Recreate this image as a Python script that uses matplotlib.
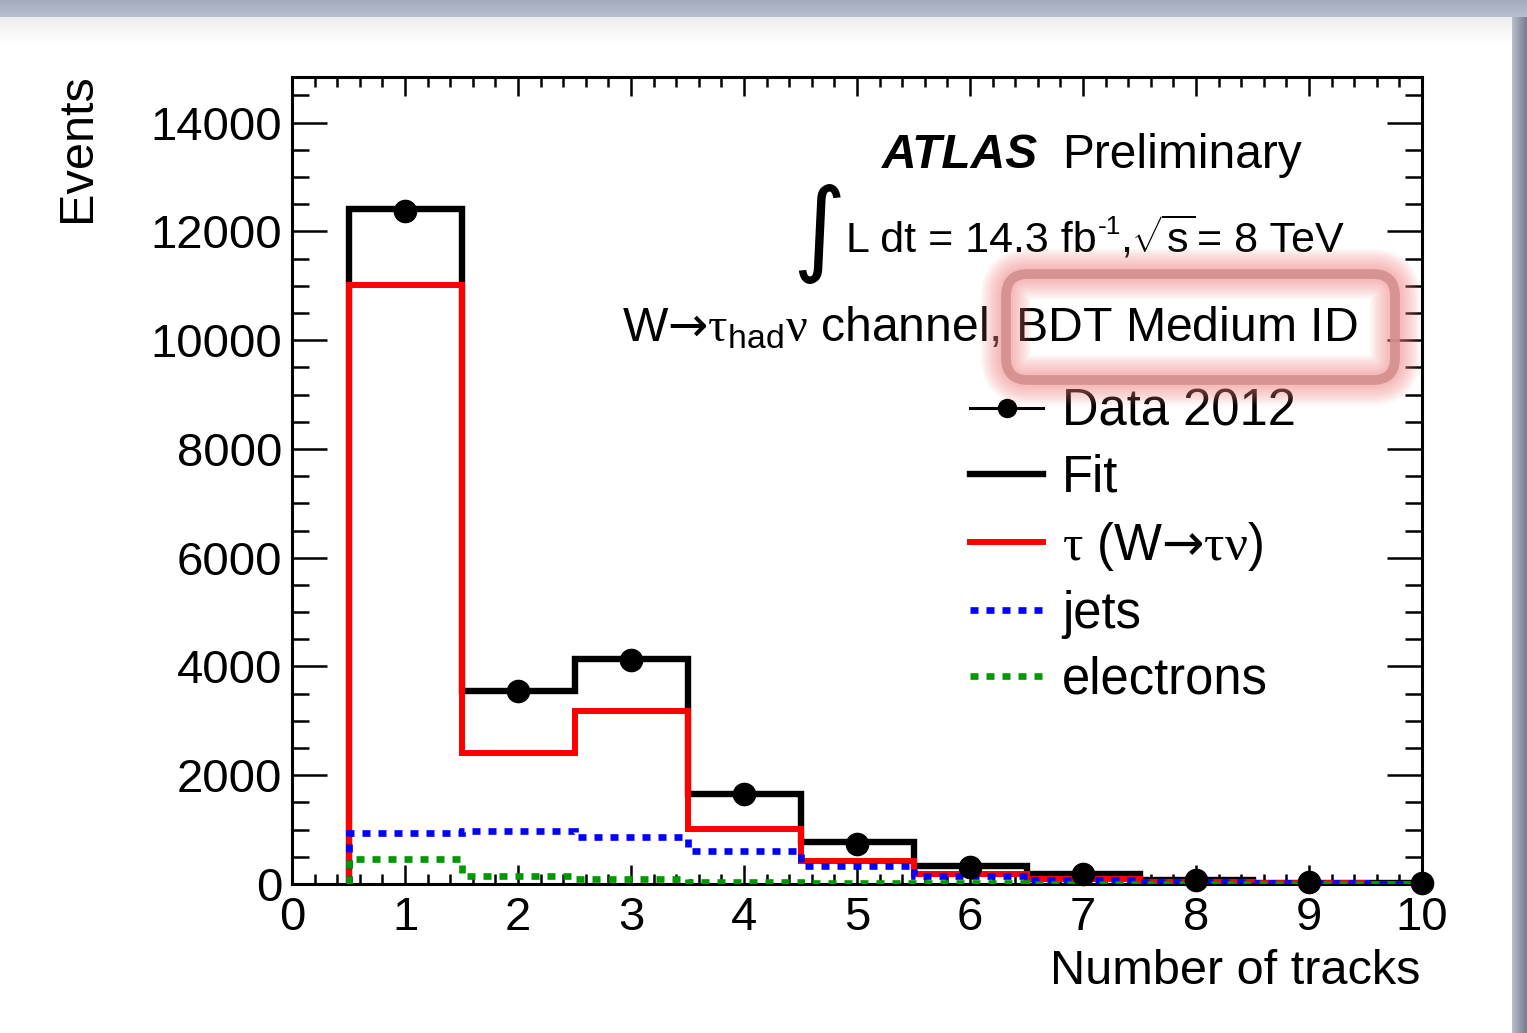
import numpy as np
import matplotlib.pyplot as plt
from matplotlib.lines import Line2D
from matplotlib.patches import FancyBboxPatch
from matplotlib.ticker import MultipleLocator

plt.rcParams['font.family'] = ['Liberation Sans', 'DejaVu Sans']
plt.rcParams['mathtext.fontset'] = 'custom'
plt.rcParams['mathtext.rm'] = 'Liberation Sans'
plt.rcParams['mathtext.it'] = 'Liberation Sans:italic'
plt.rcParams['mathtext.bf'] = 'Liberation Sans:bold'
plt.rcParams['mathtext.sf'] = 'DejaVu Sans'
plt.rcParams['mathtext.tt'] = 'Liberation Serif'

# number of tracks (bin centres) and bin edges
n_tracks = [1, 2, 3, 4, 5, 6, 7, 8, 9, 10]
edges = [0.5, 1.5, 2.5, 3.5, 4.5, 5.5, 6.5, 7.5, 8.5, 9.5, 10.5]

# events per bin
data_2012 = [12370, 3545, 4120, 1655, 735, 320, 180, 80, 40, 20]
fit = [12410, 3540, 4140, 1660, 770, 340, 180, 80, 25, 10]
tau = [11020, 2410, 3190, 1010, 430, 180, 95, 40, 12, 5]
jets = [930, 980, 870, 615, 325, 150, 80, 35, 10, 4]
electrons = [460, 150, 85, 40, 18, 10, 5, 3, 2, 1]

x_ticks = [0, 1, 2, 3, 4, 5, 6, 7, 8, 9, 10]
y_ticks = [0, 2000, 4000, 6000, 8000, 10000, 12000, 14000]

W, H = 1527, 1033


def fx(px):
    return px / W


def fy(py):
    return 1 - py / H


fig = plt.figure(figsize=(W / 100, H / 100), dpi=100)
fig.patch.set_facecolor('white')

# slide background: grey band on top, shadow on the right
bg = fig.add_axes([0, 0, 1, 1], zorder=-10)
bg.set_xlim(0, W)
bg.set_ylim(H, 0)
bg.axis('off')
top_band = np.linspace(0, 1, 20)[:, None, None] * np.array([0.08, 0.08, 0.07]) + np.array([0.64, 0.67, 0.74])
bg.imshow(np.repeat(top_band, 2, axis=1), extent=[0, W, 17, 0], aspect='auto')
page_shade = np.ones((30, 2, 3)) * (0.93 + 0.07 * np.linspace(0, 1, 30))[:, None, None]
bg.imshow(page_shade, extent=[0, 1512, 45, 17], aspect='auto')
side = np.linspace(0, 1, 20)[None, :, None] * np.array([-0.25, -0.25, -0.23]) + np.array([0.72, 0.74, 0.79])
bg.imshow(np.repeat(side, 2, axis=0), extent=[1512, W, H, 17], aspect='auto')

ax = fig.add_axes([fx(292), fy(884), (1422 - 292) / W, (884 - 77) / H])

ax.stairs(fit, edges, baseline=0, color='black', lw=4.6, joinstyle='miter', zorder=2)
ax.stairs(tau, edges, baseline=0, color='#ff0000', lw=4.3, joinstyle='miter', zorder=3)
ax.stairs(jets, edges, baseline=0, color='#0000ff', lw=4.8, linestyle=(0, (1.2, 1.2)), zorder=4)
ax.stairs(electrons, edges, baseline=0, color='#009900', lw=4.8, linestyle=(0, (1.2, 1.2)), zorder=5)
ax.plot(n_tracks, data_2012, 'o', color='black', ms=16, zorder=6, clip_on=False)

ax.set_xlim(0, 10)
ax.set_ylim(0, 14840)
ax.set_xticks(x_ticks)
ax.set_xticklabels([str(t) for t in x_ticks])
ax.set_yticks(y_ticks)
ax.set_yticklabels([str(t) for t in y_ticks])
ax.xaxis.set_minor_locator(MultipleLocator(0.2))
ax.yaxis.set_minor_locator(MultipleLocator(500))
ax.tick_params(axis='both', which='both', direction='in', top=True, right=True, width=1.8, labelsize=34)
ax.tick_params(axis='x', which='major', length=14, pad=9)
ax.tick_params(axis='x', which='minor', length=7)
ax.tick_params(axis='y', which='major', length=25, pad=7)
ax.tick_params(axis='y', which='minor', length=12)
for s in ax.spines.values():
    s.set_linewidth(2.2)

fig.text(fx(78), fy(73), 'Events', rotation=90, ha='center', va='top', fontsize=35)
fig.text(fx(1420), fy(984), 'Number of tracks', ha='right', va='baseline', fontsize=35)

fig.text(fx(882), fy(168), 'ATLAS', fontsize=34.5, weight='bold', style='italic', va='baseline')
fig.text(fx(1062), fy(168), 'Preliminary', fontsize=34.5, va='baseline')

# luminosity line, built piece by piece
fig.text(fx(819), fy(234), '∫', fontsize=74, ha='center', va='center', family='DejaVu Sans')
t1 = fig.text(fx(846), fy(252), 'L dt = 14.3 fb', fontsize=31, va='baseline')
t2 = ax.annotate('-1', xy=(1.0, 1.0), xycoords=t1, xytext=(1, 4), textcoords='offset points',
                 fontsize=19, ha='left', va='top')
t3 = ax.annotate(r'$\mathregular{,}\sqrt{\mathregular{s}}$', xy=(1.0, 0), xycoords=(t2, t1),
                 xytext=(-1, 0), textcoords='offset points', fontsize=31, ha='left', va='bottom')
ax.annotate('= 8 TeV', xy=(1.0, 0), xycoords=(t3, t1), xytext=(1, 0), textcoords='offset points',
            fontsize=31, ha='left', va='bottom')

fig.text(fx(622), fy(341), r'W$\mathsf{→}\mathtt{τ}_{\mathregular{had}}\mathtt{ν}$ channel, BDT Medium ID',
         fontsize=34.7, va='baseline')

handles = [
    Line2D([], [], color='black', lw=2.2, marker='o', ms=13),
    Line2D([], [], color='black', lw=4.6),
    Line2D([], [], color='#ff0000', lw=4.3),
    Line2D([], [], color='#0000ff', lw=4.8, linestyle=(0, (1.2, 1.2))),
    Line2D([], [], color='#009900', lw=4.8, linestyle=(0, (1.2, 1.2))),
]
labels = ['Data 2012', 'Fit', r'$\mathtt{τ}$ (W$\mathsf{→}\mathtt{τν}$)', 'jets', 'electrons']
ax.legend(handles, labels, loc='upper left', bbox_to_anchor=(fx(970), fy(388)),
          bbox_transform=fig.transFigure, frameon=False, fontsize=36.5,
          handlelength=1.44, handletextpad=0.37, labelspacing=0.335,
          borderpad=0, borderaxespad=0)

# red highlight around "BDT Medium ID"
ov = fig.add_axes([0, 0, 1, 1], zorder=10)
ov.set_xlim(0, W)
ov.set_ylim(H, 0)
ov.axis('off')
ov.patch.set_alpha(0)
for i in range(10):
    ov.add_patch(FancyBboxPatch((1006, 274), 389, 106, boxstyle='round,pad=0,rounding_size=22',
                                fill=False, ec='#f48080', lw=36 - 3.2 * i, alpha=0.075))
ov.add_patch(FancyBboxPatch((1006, 274), 389, 106, boxstyle='round,pad=0,rounding_size=22',
                            fill=False, ec='#d48e8e', lw=7, alpha=0.9))

fig.savefig('out.png', dpi=100)
